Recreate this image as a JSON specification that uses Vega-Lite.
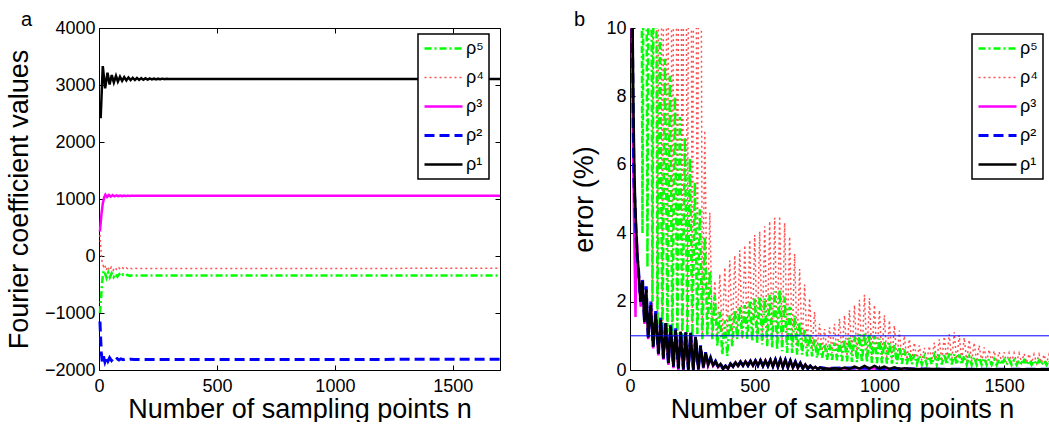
{
"$schema":"https://vega.github.io/schema/vega-lite/v6.json",
"padding":{"left":5,"top":10,"right":0,"bottom":0},
"autosize":{"type":"pad"},
"config":{
"font":"Liberation Sans",
"view":{"stroke":null},
"axis":{"domainColor":"black","domainWidth":1,"tickColor":"black","tickSize":-5,"tickWidth":1,"labelColor":"black","labelFont":"Liberation Sans","labelFontSize":18,"titleFont":"Liberation Sans","titleFontSize":27,"titleFontWeight":"normal","titleColor":"black","grid":false,"labelFlush":false,"format":"d"},
"axisX":{"labelPadding":12,"titlePadding":1},
"axisY":{"labelPadding":9,"titlePadding":11},
"legend":{"orient":"none","padding":5,"strokeColor":"black","fillColor":"white","symbolType":"stroke","symbolSize":1444,"labelFontSize":18,"labelFont":"Liberation Sans","labelColor":"black","clipHeight":19,"rowPadding":10,"labelOffset":2},
"title":{"fontSize":20,"fontWeight":"normal","anchor":"start","frame":"group","font":"Liberation Sans","color":"black","offset":-11,"align":"left"}
},
"datasets":{
"one":[{"v":1}],
"a":[
{"s":"ρ⁴","n":4,"v":370},{"s":"ρ⁴","n":7,"v":200},{"s":"ρ⁴","n":10,"v":20},{"s":"ρ⁴","n":14,"v":-120},{"s":"ρ⁴","n":19,"v":-180},{"s":"ρ⁴","n":24,"v":-150},{"s":"ρ⁴","n":30,"v":-250},{"s":"ρ⁴","n":37,"v":-185},{"s":"ρ⁴","n":44,"v":-255},{"s":"ρ⁴","n":52,"v":-195},{"s":"ρ⁴","n":60,"v":-250},{"s":"ρ⁴","n":68,"v":-200},{"s":"ρ⁴","n":76,"v":-245},{"s":"ρ⁴","n":84,"v":-205},{"s":"ρ⁴","n":92,"v":-240},{"s":"ρ⁴","n":100,"v":-208},{"s":"ρ⁴","n":108,"v":-235},{"s":"ρ⁴","n":116,"v":-210},{"s":"ρ⁴","n":124,"v":-230},{"s":"ρ⁴","n":132,"v":-212},{"s":"ρ⁴","n":140,"v":-225},{"s":"ρ⁴","n":150,"v":-214},{"s":"ρ⁴","n":170,"v":-220},{"s":"ρ⁴","n":1700,"v":-216},
{"s":"ρ⁵","n":4,"v":-1000},{"s":"ρ⁵","n":8,"v":-780},{"s":"ρ⁵","n":12,"v":-540},{"s":"ρ⁵","n":16,"v":-340},{"s":"ρ⁵","n":20,"v":-255},{"s":"ρ⁵","n":26,"v":-310},{"s":"ρ⁵","n":32,"v":-385},{"s":"ρ⁵","n":39,"v":-290},{"s":"ρ⁵","n":46,"v":-375},{"s":"ρ⁵","n":54,"v":-300},{"s":"ρ⁵","n":62,"v":-368},{"s":"ρ⁵","n":70,"v":-310},{"s":"ρ⁵","n":78,"v":-362},{"s":"ρ⁵","n":86,"v":-318},{"s":"ρ⁵","n":94,"v":-357},{"s":"ρ⁵","n":102,"v":-325},{"s":"ρ⁵","n":110,"v":-352},{"s":"ρ⁵","n":120,"v":-330},{"s":"ρ⁵","n":130,"v":-348},{"s":"ρ⁵","n":145,"v":-336},{"s":"ρ⁵","n":160,"v":-344},{"s":"ρ⁵","n":1700,"v":-340},
{"s":"ρ³","n":4,"v":430},{"s":"ρ³","n":10,"v":720},{"s":"ρ³","n":16,"v":920},{"s":"ρ³","n":22,"v":1030},{"s":"ρ³","n":27,"v":1075},{"s":"ρ³","n":34,"v":1035},{"s":"ρ³","n":42,"v":1072},{"s":"ρ³","n":50,"v":1042},{"s":"ρ³","n":58,"v":1068},{"s":"ρ³","n":66,"v":1046},{"s":"ρ³","n":74,"v":1064},{"s":"ρ³","n":82,"v":1049},{"s":"ρ³","n":90,"v":1062},{"s":"ρ³","n":98,"v":1051},{"s":"ρ³","n":106,"v":1060},{"s":"ρ³","n":114,"v":1053},{"s":"ρ³","n":122,"v":1059},{"s":"ρ³","n":130,"v":1054},{"s":"ρ³","n":140,"v":1058},{"s":"ρ³","n":160,"v":1056},{"s":"ρ³","n":1700,"v":1057},
{"s":"ρ²","n":4,"v":-1150},{"s":"ρ²","n":7,"v":-1450},{"s":"ρ²","n":10,"v":-1700},{"s":"ρ²","n":14,"v":-1860},{"s":"ρ²","n":19,"v":-1760},{"s":"ρ²","n":25,"v":-1855},{"s":"ρ²","n":31,"v":-1775},{"s":"ρ²","n":38,"v":-1845},{"s":"ρ²","n":45,"v":-1785},{"s":"ρ²","n":53,"v":-1835},{"s":"ρ²","n":61,"v":-1795},{"s":"ρ²","n":69,"v":-1828},{"s":"ρ²","n":77,"v":-1800},{"s":"ρ²","n":85,"v":-1824},{"s":"ρ²","n":93,"v":-1804},{"s":"ρ²","n":102,"v":-1820},{"s":"ρ²","n":112,"v":-1807},{"s":"ρ²","n":122,"v":-1818},{"s":"ρ²","n":135,"v":-1810},{"s":"ρ²","n":150,"v":-1815},{"s":"ρ²","n":1700,"v":-1813},
{"s":"ρ¹","n":7,"v":2416},{"s":"ρ¹","n":16,"v":3333},{"s":"ρ¹","n":26,"v":2940},{"s":"ρ¹","n":36,"v":3215},{"s":"ρ¹","n":45,"v":3010},{"s":"ρ¹","n":54,"v":3175},{"s":"ρ¹","n":63,"v":3045},{"s":"ρ¹","n":72,"v":3160},{"s":"ρ¹","n":80,"v":3060},{"s":"ρ¹","n":89,"v":3145},{"s":"ρ¹","n":98,"v":3072},{"s":"ρ¹","n":107,"v":3138},{"s":"ρ¹","n":116,"v":3080},{"s":"ρ¹","n":125,"v":3132},{"s":"ρ¹","n":134,"v":3085},{"s":"ρ¹","n":143,"v":3127},{"s":"ρ¹","n":152,"v":3088},{"s":"ρ¹","n":161,"v":3123},{"s":"ρ¹","n":170,"v":3091},{"s":"ρ¹","n":179,"v":3120},{"s":"ρ¹","n":188,"v":3093},{"s":"ρ¹","n":197,"v":3117},{"s":"ρ¹","n":206,"v":3095},{"s":"ρ¹","n":215,"v":3115},{"s":"ρ¹","n":224,"v":3097},{"s":"ρ¹","n":233,"v":3113},{"s":"ρ¹","n":242,"v":3099},{"s":"ρ¹","n":251,"v":3111},{"s":"ρ¹","n":260,"v":3101},{"s":"ρ¹","n":269,"v":3110},{"s":"ρ¹","n":278,"v":3102},{"s":"ρ¹","n":287,"v":3109},{"s":"ρ¹","n":296,"v":3104},{"s":"ρ¹","n":310,"v":3107},{"s":"ρ¹","n":330,"v":3105},{"s":"ρ¹","n":1700,"v":3106}
],
"b":[
{"s":"ρ⁴","n":0,"v":30},{"s":"ρ⁴","n":10,"v":15},{"s":"ρ⁴","n":20,"v":30},{"s":"ρ⁴","n":30,"v":15},{"s":"ρ⁴","n":40,"v":30},{"s":"ρ⁴","n":50,"v":15},{"s":"ρ⁴","n":60,"v":30},{"s":"ρ⁴","n":70,"v":15},{"s":"ρ⁴","n":80,"v":30},{"s":"ρ⁴","n":90,"v":1.1},{"s":"ρ⁴","n":100,"v":25},{"s":"ρ⁴","n":110,"v":1.0},{"s":"ρ⁴","n":120,"v":25},{"s":"ρ⁴","n":130,"v":1.1},{"s":"ρ⁴","n":140,"v":25},{"s":"ρ⁴","n":150,"v":0.9},{"s":"ρ⁴","n":160,"v":25},{"s":"ρ⁴","n":170,"v":1.0},{"s":"ρ⁴","n":180,"v":25},{"s":"ρ⁴","n":190,"v":1.1},{"s":"ρ⁴","n":200,"v":25},{"s":"ρ⁴","n":210,"v":0.95},{"s":"ρ⁴","n":220,"v":25},{"s":"ρ⁴","n":230,"v":1.05},{"s":"ρ⁴","n":240,"v":25},{"s":"ρ⁴","n":250,"v":0.9},{"s":"ρ⁴","n":260,"v":25},{"s":"ρ⁴","n":270,"v":1.0},{"s":"ρ⁴","n":280,"v":25},{"s":"ρ⁴","n":290,"v":0.95},{"s":"ρ⁴","n":300,"v":7.0},{"s":"ρ⁴","n":310,"v":1.0},{"s":"ρ⁴","n":320,"v":4.6},{"s":"ρ⁴","n":330,"v":1.1},{"s":"ρ⁴","n":340,"v":2.6},{"s":"ρ⁴","n":350,"v":1.0},{"s":"ρ⁴","n":360,"v":2.8},{"s":"ρ⁴","n":370,"v":0.95},{"s":"ρ⁴","n":380,"v":3.0},{"s":"ρ⁴","n":390,"v":1.0},{"s":"ρ⁴","n":400,"v":3.2},{"s":"ρ⁴","n":410,"v":0.9},{"s":"ρ⁴","n":420,"v":3.35},{"s":"ρ⁴","n":430,"v":1.0},{"s":"ρ⁴","n":440,"v":3.5},{"s":"ρ⁴","n":450,"v":0.9},{"s":"ρ⁴","n":460,"v":3.65},{"s":"ρ⁴","n":470,"v":0.95},{"s":"ρ⁴","n":480,"v":3.8},{"s":"ρ⁴","n":490,"v":0.85},{"s":"ρ⁴","n":500,"v":3.95},{"s":"ρ⁴","n":510,"v":0.9},{"s":"ρ⁴","n":520,"v":4.05},{"s":"ρ⁴","n":530,"v":0.85},{"s":"ρ⁴","n":540,"v":4.2},{"s":"ρ⁴","n":550,"v":0.8},{"s":"ρ⁴","n":560,"v":4.35},{"s":"ρ⁴","n":570,"v":0.85},{"s":"ρ⁴","n":580,"v":4.45},{"s":"ρ⁴","n":590,"v":0.8},{"s":"ρ⁴","n":600,"v":4.5},{"s":"ρ⁴","n":610,"v":0.8},{"s":"ρ⁴","n":620,"v":4.3},{"s":"ρ⁴","n":630,"v":0.75},{"s":"ρ⁴","n":640,"v":3.9},{"s":"ρ⁴","n":650,"v":0.75},{"s":"ρ⁴","n":660,"v":3.4},{"s":"ρ⁴","n":670,"v":0.7},{"s":"ρ⁴","n":680,"v":2.95},{"s":"ρ⁴","n":690,"v":0.7},{"s":"ρ⁴","n":700,"v":2.5},{"s":"ρ⁴","n":710,"v":0.65},{"s":"ρ⁴","n":720,"v":2.1},{"s":"ρ⁴","n":730,"v":0.6},{"s":"ρ⁴","n":740,"v":1.7},{"s":"ρ⁴","n":750,"v":0.6},{"s":"ρ⁴","n":760,"v":1.35},{"s":"ρ⁴","n":770,"v":0.55},{"s":"ρ⁴","n":780,"v":1.2},{"s":"ρ⁴","n":790,"v":0.5},{"s":"ρ⁴","n":800,"v":1.25},{"s":"ρ⁴","n":810,"v":0.5},{"s":"ρ⁴","n":820,"v":1.35},{"s":"ρ⁴","n":830,"v":0.45},{"s":"ρ⁴","n":840,"v":1.5},{"s":"ρ⁴","n":850,"v":0.45},{"s":"ρ⁴","n":860,"v":1.6},{"s":"ρ⁴","n":870,"v":0.4},{"s":"ρ⁴","n":880,"v":1.75},{"s":"ρ⁴","n":890,"v":0.4},{"s":"ρ⁴","n":900,"v":1.9},{"s":"ρ⁴","n":910,"v":0.4},{"s":"ρ⁴","n":920,"v":2.05},{"s":"ρ⁴","n":930,"v":0.35},{"s":"ρ⁴","n":940,"v":2.2},{"s":"ρ⁴","n":950,"v":0.35},{"s":"ρ⁴","n":960,"v":2.1},{"s":"ρ⁴","n":970,"v":0.35},{"s":"ρ⁴","n":980,"v":1.9},{"s":"ρ⁴","n":990,"v":0.35},{"s":"ρ⁴","n":1000,"v":1.75},{"s":"ρ⁴","n":1010,"v":0.35},{"s":"ρ⁴","n":1020,"v":1.6},{"s":"ρ⁴","n":1030,"v":0.3},{"s":"ρ⁴","n":1040,"v":1.45},{"s":"ρ⁴","n":1050,"v":0.3},{"s":"ρ⁴","n":1060,"v":1.3},{"s":"ρ⁴","n":1070,"v":0.3},{"s":"ρ⁴","n":1080,"v":1.15},{"s":"ρ⁴","n":1090,"v":0.3},{"s":"ρ⁴","n":1100,"v":1.0},{"s":"ρ⁴","n":1110,"v":0.3},{"s":"ρ⁴","n":1120,"v":0.9},{"s":"ρ⁴","n":1130,"v":0.28},{"s":"ρ⁴","n":1140,"v":0.8},{"s":"ρ⁴","n":1150,"v":0.28},{"s":"ρ⁴","n":1160,"v":0.72},{"s":"ρ⁴","n":1170,"v":0.27},{"s":"ρ⁴","n":1180,"v":0.65},{"s":"ρ⁴","n":1190,"v":0.27},{"s":"ρ⁴","n":1200,"v":0.7},{"s":"ρ⁴","n":1210,"v":0.27},{"s":"ρ⁴","n":1220,"v":0.8},{"s":"ρ⁴","n":1230,"v":0.27},{"s":"ρ⁴","n":1240,"v":0.9},{"s":"ρ⁴","n":1250,"v":0.26},{"s":"ρ⁴","n":1260,"v":0.98},{"s":"ρ⁴","n":1270,"v":0.26},{"s":"ρ⁴","n":1280,"v":1.05},{"s":"ρ⁴","n":1290,"v":0.26},{"s":"ρ⁴","n":1300,"v":1.1},{"s":"ρ⁴","n":1310,"v":0.25},{"s":"ρ⁴","n":1320,"v":1.02},{"s":"ρ⁴","n":1330,"v":0.25},{"s":"ρ⁴","n":1340,"v":0.95},{"s":"ρ⁴","n":1350,"v":0.25},{"s":"ρ⁴","n":1360,"v":0.88},{"s":"ρ⁴","n":1370,"v":0.25},{"s":"ρ⁴","n":1380,"v":0.8},{"s":"ρ⁴","n":1390,"v":0.24},{"s":"ρ⁴","n":1400,"v":0.72},{"s":"ρ⁴","n":1410,"v":0.24},{"s":"ρ⁴","n":1420,"v":0.66},{"s":"ρ⁴","n":1430,"v":0.24},{"s":"ρ⁴","n":1440,"v":0.6},{"s":"ρ⁴","n":1450,"v":0.23},{"s":"ρ⁴","n":1460,"v":0.56},{"s":"ρ⁴","n":1470,"v":0.23},{"s":"ρ⁴","n":1480,"v":0.53},{"s":"ρ⁴","n":1490,"v":0.23},{"s":"ρ⁴","n":1500,"v":0.52},{"s":"ρ⁴","n":1510,"v":0.22},{"s":"ρ⁴","n":1520,"v":0.5},{"s":"ρ⁴","n":1530,"v":0.22},{"s":"ρ⁴","n":1540,"v":0.5},{"s":"ρ⁴","n":1550,"v":0.22},{"s":"ρ⁴","n":1560,"v":0.49},{"s":"ρ⁴","n":1570,"v":0.21},{"s":"ρ⁴","n":1580,"v":0.48},{"s":"ρ⁴","n":1590,"v":0.21},{"s":"ρ⁴","n":1600,"v":0.47},{"s":"ρ⁴","n":1610,"v":0.21},{"s":"ρ⁴","n":1620,"v":0.46},{"s":"ρ⁴","n":1630,"v":0.2},{"s":"ρ⁴","n":1640,"v":0.46},{"s":"ρ⁴","n":1650,"v":0.2},{"s":"ρ⁴","n":1660,"v":0.45},{"s":"ρ⁴","n":1670,"v":0.2},{"s":"ρ⁴","n":1680,"v":0.45},{"s":"ρ⁴","n":1690,"v":0.2},{"s":"ρ⁴","n":1700,"v":0.44},
{"s":"ρ⁵","n":0,"v":30},{"s":"ρ⁵","n":10,"v":20},{"s":"ρ⁵","n":20,"v":30},{"s":"ρ⁵","n":30,"v":20},{"s":"ρ⁵","n":40,"v":30},{"s":"ρ⁵","n":50,"v":4.0},{"s":"ρ⁵","n":60,"v":25},{"s":"ρ⁵","n":70,"v":3.0},{"s":"ρ⁵","n":80,"v":25},{"s":"ρ⁵","n":90,"v":2.0},{"s":"ρ⁵","n":100,"v":25},{"s":"ρ⁵","n":110,"v":1.3},{"s":"ρ⁵","n":120,"v":9.7},{"s":"ρ⁵","n":130,"v":1.0},{"s":"ρ⁵","n":140,"v":9.1},{"s":"ρ⁵","n":150,"v":1.1},{"s":"ρ⁵","n":160,"v":8.6},{"s":"ρ⁵","n":170,"v":0.95},{"s":"ρ⁵","n":180,"v":8.0},{"s":"ρ⁵","n":190,"v":1.05},{"s":"ρ⁵","n":200,"v":7.4},{"s":"ρ⁵","n":210,"v":0.9},{"s":"ρ⁵","n":220,"v":6.8},{"s":"ρ⁵","n":230,"v":1.0},{"s":"ρ⁵","n":240,"v":6.2},{"s":"ρ⁵","n":250,"v":0.95},{"s":"ρ⁵","n":260,"v":5.5},{"s":"ρ⁵","n":270,"v":1.05},{"s":"ρ⁵","n":280,"v":4.7},{"s":"ρ⁵","n":290,"v":0.9},{"s":"ρ⁵","n":300,"v":3.9},{"s":"ρ⁵","n":310,"v":1.0},{"s":"ρ⁵","n":320,"v":2.9},{"s":"ρ⁵","n":330,"v":0.9},{"s":"ρ⁵","n":340,"v":2.2},{"s":"ρ⁵","n":350,"v":0.7},{"s":"ρ⁵","n":360,"v":1.7},{"s":"ρ⁵","n":370,"v":0.45},{"s":"ρ⁵","n":380,"v":1.45},{"s":"ρ⁵","n":390,"v":0.4},{"s":"ρ⁵","n":400,"v":1.6},{"s":"ρ⁵","n":410,"v":0.7},{"s":"ρ⁵","n":420,"v":1.75},{"s":"ρ⁵","n":430,"v":0.9},{"s":"ρ⁵","n":440,"v":1.85},{"s":"ρ⁵","n":450,"v":0.95},{"s":"ρ⁵","n":460,"v":1.9},{"s":"ρ⁵","n":470,"v":0.9},{"s":"ρ⁵","n":480,"v":2.0},{"s":"ρ⁵","n":490,"v":0.85},{"s":"ρ⁵","n":500,"v":2.1},{"s":"ρ⁵","n":510,"v":0.8},{"s":"ρ⁵","n":520,"v":2.15},{"s":"ρ⁵","n":530,"v":0.75},{"s":"ρ⁵","n":540,"v":2.1},{"s":"ρ⁵","n":550,"v":0.7},{"s":"ρ⁵","n":560,"v":2.2},{"s":"ρ⁵","n":570,"v":0.65},{"s":"ρ⁵","n":580,"v":2.3},{"s":"ρ⁵","n":590,"v":0.6},{"s":"ρ⁵","n":600,"v":2.35},{"s":"ρ⁵","n":610,"v":0.55},{"s":"ρ⁵","n":620,"v":2.15},{"s":"ρ⁵","n":630,"v":0.5},{"s":"ρ⁵","n":640,"v":1.85},{"s":"ρ⁵","n":650,"v":0.5},{"s":"ρ⁵","n":660,"v":1.6},{"s":"ρ⁵","n":670,"v":0.45},{"s":"ρ⁵","n":680,"v":1.4},{"s":"ρ⁵","n":690,"v":0.45},{"s":"ρ⁵","n":700,"v":1.2},{"s":"ρ⁵","n":710,"v":0.4},{"s":"ρ⁵","n":720,"v":1.05},{"s":"ρ⁵","n":730,"v":0.4},{"s":"ρ⁵","n":740,"v":0.92},{"s":"ρ⁵","n":750,"v":0.35},{"s":"ρ⁵","n":760,"v":0.82},{"s":"ρ⁵","n":770,"v":0.35},{"s":"ρ⁵","n":780,"v":0.76},{"s":"ρ⁵","n":790,"v":0.3},{"s":"ρ⁵","n":800,"v":0.75},{"s":"ρ⁵","n":810,"v":0.3},{"s":"ρ⁵","n":820,"v":0.8},{"s":"ρ⁵","n":830,"v":0.28},{"s":"ρ⁵","n":840,"v":0.85},{"s":"ρ⁵","n":850,"v":0.26},{"s":"ρ⁵","n":860,"v":0.9},{"s":"ρ⁵","n":870,"v":0.25},{"s":"ρ⁵","n":880,"v":0.95},{"s":"ρ⁵","n":890,"v":0.24},{"s":"ρ⁵","n":900,"v":1.0},{"s":"ρ⁵","n":910,"v":0.23},{"s":"ρ⁵","n":920,"v":1.05},{"s":"ρ⁵","n":930,"v":0.22},{"s":"ρ⁵","n":940,"v":1.1},{"s":"ρ⁵","n":950,"v":0.22},{"s":"ρ⁵","n":960,"v":1.05},{"s":"ρ⁵","n":970,"v":0.21},{"s":"ρ⁵","n":980,"v":1.0},{"s":"ρ⁵","n":990,"v":0.2},{"s":"ρ⁵","n":1000,"v":0.92},{"s":"ρ⁵","n":1010,"v":0.2},{"s":"ρ⁵","n":1020,"v":0.86},{"s":"ρ⁵","n":1030,"v":0.19},{"s":"ρ⁵","n":1040,"v":0.8},{"s":"ρ⁵","n":1050,"v":0.19},{"s":"ρ⁵","n":1060,"v":0.74},{"s":"ρ⁵","n":1070,"v":0.18},{"s":"ρ⁵","n":1080,"v":0.68},{"s":"ρ⁵","n":1090,"v":0.18},{"s":"ρ⁵","n":1100,"v":0.6},{"s":"ρ⁵","n":1110,"v":0.17},{"s":"ρ⁵","n":1120,"v":0.52},{"s":"ρ⁵","n":1130,"v":0.17},{"s":"ρ⁵","n":1140,"v":0.46},{"s":"ρ⁵","n":1150,"v":0.17},{"s":"ρ⁵","n":1160,"v":0.42},{"s":"ρ⁵","n":1170,"v":0.16},{"s":"ρ⁵","n":1180,"v":0.39},{"s":"ρ⁵","n":1190,"v":0.16},{"s":"ρ⁵","n":1200,"v":0.4},{"s":"ρ⁵","n":1210,"v":0.16},{"s":"ρ⁵","n":1220,"v":0.43},{"s":"ρ⁵","n":1230,"v":0.16},{"s":"ρ⁵","n":1240,"v":0.45},{"s":"ρ⁵","n":1250,"v":0.16},{"s":"ρ⁵","n":1260,"v":0.47},{"s":"ρ⁵","n":1270,"v":0.16},{"s":"ρ⁵","n":1280,"v":0.48},{"s":"ρ⁵","n":1290,"v":0.16},{"s":"ρ⁵","n":1300,"v":0.47},{"s":"ρ⁵","n":1310,"v":0.16},{"s":"ρ⁵","n":1320,"v":0.45},{"s":"ρ⁵","n":1330,"v":0.16},{"s":"ρ⁵","n":1340,"v":0.42},{"s":"ρ⁵","n":1350,"v":0.16},{"s":"ρ⁵","n":1360,"v":0.4},{"s":"ρ⁵","n":1370,"v":0.15},{"s":"ρ⁵","n":1380,"v":0.38},{"s":"ρ⁵","n":1390,"v":0.15},{"s":"ρ⁵","n":1400,"v":0.36},{"s":"ρ⁵","n":1410,"v":0.15},{"s":"ρ⁵","n":1420,"v":0.35},{"s":"ρ⁵","n":1430,"v":0.15},{"s":"ρ⁵","n":1440,"v":0.33},{"s":"ρ⁵","n":1450,"v":0.15},{"s":"ρ⁵","n":1460,"v":0.32},{"s":"ρ⁵","n":1470,"v":0.15},{"s":"ρ⁵","n":1480,"v":0.31},{"s":"ρ⁵","n":1490,"v":0.15},{"s":"ρ⁵","n":1500,"v":0.3},{"s":"ρ⁵","n":1510,"v":0.15},{"s":"ρ⁵","n":1520,"v":0.3},{"s":"ρ⁵","n":1530,"v":0.15},{"s":"ρ⁵","n":1540,"v":0.29},{"s":"ρ⁵","n":1550,"v":0.15},{"s":"ρ⁵","n":1560,"v":0.29},{"s":"ρ⁵","n":1570,"v":0.15},{"s":"ρ⁵","n":1580,"v":0.29},{"s":"ρ⁵","n":1590,"v":0.15},{"s":"ρ⁵","n":1600,"v":0.28},{"s":"ρ⁵","n":1610,"v":0.15},{"s":"ρ⁵","n":1620,"v":0.28},{"s":"ρ⁵","n":1630,"v":0.15},{"s":"ρ⁵","n":1640,"v":0.28},{"s":"ρ⁵","n":1650,"v":0.15},{"s":"ρ⁵","n":1660,"v":0.28},{"s":"ρ⁵","n":1670,"v":0.15},{"s":"ρ⁵","n":1680,"v":0.28},{"s":"ρ⁵","n":1690,"v":0.15},{"s":"ρ⁵","n":1700,"v":0.28},
{"s":"ρ³","n":2,"v":60},{"s":"ρ³","n":6,"v":11},{"s":"ρ³","n":10,"v":8},{"s":"ρ³","n":14,"v":5.5},{"s":"ρ³","n":18,"v":3.5},{"s":"ρ³","n":22,"v":1.55},{"s":"ρ³","n":27,"v":3.9},{"s":"ρ³","n":32,"v":3.1},{"s":"ρ³","n":37,"v":2.6},{"s":"ρ³","n":43,"v":1.85},{"s":"ρ³","n":50,"v":2.55},{"s":"ρ³","n":58,"v":1.35},{"s":"ρ³","n":65,"v":2.3},{"s":"ρ³","n":73,"v":0.9},{"s":"ρ³","n":83,"v":1.85},{"s":"ρ³","n":93,"v":0.63},{"s":"ρ³","n":103,"v":1.6},{"s":"ρ³","n":114,"v":0.43},{"s":"ρ³","n":123,"v":1.42},{"s":"ρ³","n":134,"v":0.3},{"s":"ρ³","n":143,"v":1.33},{"s":"ρ³","n":154,"v":0.15},{"s":"ρ³","n":163,"v":1.23},{"s":"ρ³","n":174,"v":0.05},{"s":"ρ³","n":183,"v":1.13},{"s":"ρ³","n":194,"v":0},{"s":"ρ³","n":203,"v":1.08},{"s":"ρ³","n":214,"v":0},{"s":"ρ³","n":223,"v":1.06},{"s":"ρ³","n":234,"v":0},{"s":"ρ³","n":243,"v":1.03},{"s":"ρ³","n":254,"v":0},{"s":"ρ³","n":263,"v":0.93},{"s":"ρ³","n":274,"v":0},{"s":"ρ³","n":283,"v":0.66},{"s":"ρ³","n":294,"v":0.05},{"s":"ρ³","n":303,"v":0.47},{"s":"ρ³","n":313,"v":0.12},{"s":"ρ³","n":323,"v":0.32},{"s":"ρ³","n":333,"v":0.12},{"s":"ρ³","n":343,"v":0.22},{"s":"ρ³","n":353,"v":0.08},{"s":"ρ³","n":363,"v":0.16},{"s":"ρ³","n":373,"v":0.03},{"s":"ρ³","n":383,"v":0.1},{"s":"ρ³","n":393,"v":0.03},{"s":"ρ³","n":403,"v":0.18},{"s":"ρ³","n":413,"v":0.1},{"s":"ρ³","n":423,"v":0.22},{"s":"ρ³","n":433,"v":0.12},{"s":"ρ³","n":443,"v":0.24},{"s":"ρ³","n":453,"v":0.13},{"s":"ρ³","n":463,"v":0.25},{"s":"ρ³","n":473,"v":0.13},{"s":"ρ³","n":483,"v":0.26},{"s":"ρ³","n":493,"v":0.13},{"s":"ρ³","n":503,"v":0.27},{"s":"ρ³","n":513,"v":0.13},{"s":"ρ³","n":523,"v":0.28},{"s":"ρ³","n":533,"v":0.12},{"s":"ρ³","n":543,"v":0.28},{"s":"ρ³","n":553,"v":0.12},{"s":"ρ³","n":563,"v":0.29},{"s":"ρ³","n":573,"v":0.11},{"s":"ρ³","n":583,"v":0.3},{"s":"ρ³","n":593,"v":0.1},{"s":"ρ³","n":603,"v":0.3},{"s":"ρ³","n":613,"v":0.09},{"s":"ρ³","n":623,"v":0.29},{"s":"ρ³","n":633,"v":0.08},{"s":"ρ³","n":643,"v":0.27},{"s":"ρ³","n":653,"v":0.07},{"s":"ρ³","n":663,"v":0.24},{"s":"ρ³","n":673,"v":0.06},{"s":"ρ³","n":683,"v":0.2},{"s":"ρ³","n":693,"v":0.05},{"s":"ρ³","n":703,"v":0.16},{"s":"ρ³","n":713,"v":0.04},{"s":"ρ³","n":723,"v":0.12},{"s":"ρ³","n":733,"v":0.04},{"s":"ρ³","n":743,"v":0.09},{"s":"ρ³","n":753,"v":0.03},{"s":"ρ³","n":763,"v":0.07},{"s":"ρ³","n":783,"v":0.04},{"s":"ρ³","n":900,"v":0.05},{"s":"ρ³","n":1100,"v":0.03},{"s":"ρ³","n":1300,"v":0.02},{"s":"ρ³","n":1700,"v":0.01},
{"s":"ρ²","n":2,"v":60},{"s":"ρ²","n":7,"v":13},{"s":"ρ²","n":10,"v":9.5},{"s":"ρ²","n":13,"v":7.2},{"s":"ρ²","n":16,"v":5.5},{"s":"ρ²","n":19,"v":5.0},{"s":"ρ²","n":23,"v":4.2},{"s":"ρ²","n":28,"v":3.4},{"s":"ρ²","n":34,"v":2.95},{"s":"ρ²","n":42,"v":2.0},{"s":"ρ²","n":50,"v":2.7},{"s":"ρ²","n":58,"v":1.4},{"s":"ρ²","n":65,"v":2.45},{"s":"ρ²","n":73,"v":0.95},{"s":"ρ²","n":83,"v":2.0},{"s":"ρ²","n":93,"v":0.68},{"s":"ρ²","n":103,"v":1.72},{"s":"ρ²","n":114,"v":0.48},{"s":"ρ²","n":123,"v":1.53},{"s":"ρ²","n":134,"v":0.34},{"s":"ρ²","n":143,"v":1.43},{"s":"ρ²","n":154,"v":0.2},{"s":"ρ²","n":163,"v":1.32},{"s":"ρ²","n":174,"v":0.1},{"s":"ρ²","n":183,"v":1.22},{"s":"ρ²","n":194,"v":0.05},{"s":"ρ²","n":203,"v":1.16},{"s":"ρ²","n":214,"v":0.02},{"s":"ρ²","n":223,"v":1.13},{"s":"ρ²","n":234,"v":0.01},{"s":"ρ²","n":243,"v":1.1},{"s":"ρ²","n":254,"v":0.01},{"s":"ρ²","n":263,"v":1.0},{"s":"ρ²","n":274,"v":0.02},{"s":"ρ²","n":283,"v":0.72},{"s":"ρ²","n":294,"v":0.08},{"s":"ρ²","n":303,"v":0.52},{"s":"ρ²","n":313,"v":0.15},{"s":"ρ²","n":323,"v":0.36},{"s":"ρ²","n":333,"v":0.14},{"s":"ρ²","n":343,"v":0.26},{"s":"ρ²","n":353,"v":0.1},{"s":"ρ²","n":363,"v":0.18},{"s":"ρ²","n":373,"v":0.04},{"s":"ρ²","n":383,"v":0.12},{"s":"ρ²","n":393,"v":0.04},{"s":"ρ²","n":403,"v":0.18},{"s":"ρ²","n":413,"v":0.1},{"s":"ρ²","n":423,"v":0.22},{"s":"ρ²","n":433,"v":0.12},{"s":"ρ²","n":443,"v":0.24},{"s":"ρ²","n":453,"v":0.13},{"s":"ρ²","n":463,"v":0.25},{"s":"ρ²","n":473,"v":0.13},{"s":"ρ²","n":483,"v":0.26},{"s":"ρ²","n":493,"v":0.13},{"s":"ρ²","n":503,"v":0.27},{"s":"ρ²","n":513,"v":0.13},{"s":"ρ²","n":523,"v":0.28},{"s":"ρ²","n":533,"v":0.12},{"s":"ρ²","n":543,"v":0.28},{"s":"ρ²","n":553,"v":0.12},{"s":"ρ²","n":563,"v":0.29},{"s":"ρ²","n":573,"v":0.11},{"s":"ρ²","n":583,"v":0.3},{"s":"ρ²","n":593,"v":0.1},{"s":"ρ²","n":603,"v":0.3},{"s":"ρ²","n":613,"v":0.09},{"s":"ρ²","n":623,"v":0.29},{"s":"ρ²","n":633,"v":0.08},{"s":"ρ²","n":643,"v":0.27},{"s":"ρ²","n":653,"v":0.07},{"s":"ρ²","n":663,"v":0.24},{"s":"ρ²","n":673,"v":0.06},{"s":"ρ²","n":683,"v":0.2},{"s":"ρ²","n":693,"v":0.05},{"s":"ρ²","n":703,"v":0.16},{"s":"ρ²","n":713,"v":0.04},{"s":"ρ²","n":723,"v":0.12},{"s":"ρ²","n":733,"v":0.04},{"s":"ρ²","n":743,"v":0.09},{"s":"ρ²","n":753,"v":0.03},{"s":"ρ²","n":763,"v":0.07},{"s":"ρ²","n":783,"v":0.05},{"s":"ρ²","n":900,"v":0.06},{"s":"ρ²","n":1000,"v":0.05},{"s":"ρ²","n":1100,"v":0.03},{"s":"ρ²","n":1300,"v":0.02},{"s":"ρ²","n":1700,"v":0.02},
{"s":"ρ¹","n":2,"v":60},{"s":"ρ¹","n":8,"v":13},{"s":"ρ¹","n":11,"v":9.6},{"s":"ρ¹","n":14,"v":7.6},{"s":"ρ¹","n":17,"v":6.1},{"s":"ρ¹","n":20,"v":5.1},{"s":"ρ¹","n":24,"v":4.3},{"s":"ρ¹","n":29,"v":3.4},{"s":"ρ¹","n":34,"v":2.9},{"s":"ρ¹","n":42,"v":2.0},{"s":"ρ¹","n":50,"v":2.6},{"s":"ρ¹","n":58,"v":1.4},{"s":"ρ¹","n":65,"v":2.35},{"s":"ρ¹","n":73,"v":0.95},{"s":"ρ¹","n":83,"v":1.9},{"s":"ρ¹","n":93,"v":0.68},{"s":"ρ¹","n":103,"v":1.64},{"s":"ρ¹","n":114,"v":0.48},{"s":"ρ¹","n":123,"v":1.46},{"s":"ρ¹","n":134,"v":0.34},{"s":"ρ¹","n":143,"v":1.37},{"s":"ρ¹","n":154,"v":0.2},{"s":"ρ¹","n":163,"v":1.27},{"s":"ρ¹","n":174,"v":0.1},{"s":"ρ¹","n":183,"v":1.17},{"s":"ρ¹","n":194,"v":0.05},{"s":"ρ¹","n":203,"v":1.12},{"s":"ρ¹","n":214,"v":0.02},{"s":"ρ¹","n":223,"v":1.1},{"s":"ρ¹","n":234,"v":0.01},{"s":"ρ¹","n":243,"v":1.07},{"s":"ρ¹","n":254,"v":0.01},{"s":"ρ¹","n":263,"v":0.97},{"s":"ρ¹","n":274,"v":0.02},{"s":"ρ¹","n":283,"v":0.7},{"s":"ρ¹","n":294,"v":0.08},{"s":"ρ¹","n":303,"v":0.5},{"s":"ρ¹","n":313,"v":0.15},{"s":"ρ¹","n":323,"v":0.35},{"s":"ρ¹","n":333,"v":0.14},{"s":"ρ¹","n":343,"v":0.25},{"s":"ρ¹","n":353,"v":0.1},{"s":"ρ¹","n":363,"v":0.18},{"s":"ρ¹","n":373,"v":0.04},{"s":"ρ¹","n":383,"v":0.12},{"s":"ρ¹","n":393,"v":0.04},{"s":"ρ¹","n":403,"v":0.18},{"s":"ρ¹","n":413,"v":0.1},{"s":"ρ¹","n":423,"v":0.22},{"s":"ρ¹","n":433,"v":0.12},{"s":"ρ¹","n":443,"v":0.24},{"s":"ρ¹","n":453,"v":0.13},{"s":"ρ¹","n":463,"v":0.25},{"s":"ρ¹","n":473,"v":0.13},{"s":"ρ¹","n":483,"v":0.26},{"s":"ρ¹","n":493,"v":0.13},{"s":"ρ¹","n":503,"v":0.27},{"s":"ρ¹","n":513,"v":0.13},{"s":"ρ¹","n":523,"v":0.28},{"s":"ρ¹","n":533,"v":0.12},{"s":"ρ¹","n":543,"v":0.28},{"s":"ρ¹","n":553,"v":0.12},{"s":"ρ¹","n":563,"v":0.29},{"s":"ρ¹","n":573,"v":0.11},{"s":"ρ¹","n":583,"v":0.3},{"s":"ρ¹","n":593,"v":0.1},{"s":"ρ¹","n":603,"v":0.3},{"s":"ρ¹","n":613,"v":0.09},{"s":"ρ¹","n":623,"v":0.29},{"s":"ρ¹","n":633,"v":0.08},{"s":"ρ¹","n":643,"v":0.27},{"s":"ρ¹","n":653,"v":0.07},{"s":"ρ¹","n":663,"v":0.24},{"s":"ρ¹","n":673,"v":0.06},{"s":"ρ¹","n":683,"v":0.2},{"s":"ρ¹","n":693,"v":0.05},{"s":"ρ¹","n":703,"v":0.16},{"s":"ρ¹","n":713,"v":0.04},{"s":"ρ¹","n":723,"v":0.12},{"s":"ρ¹","n":733,"v":0.04},{"s":"ρ¹","n":743,"v":0.09},{"s":"ρ¹","n":753,"v":0.03},{"s":"ρ¹","n":763,"v":0.07},{"s":"ρ¹","n":773,"v":0.03},{"s":"ρ¹","n":783,"v":0.05},{"s":"ρ¹","n":800,"v":0.03},{"s":"ρ¹","n":820,"v":0.05},{"s":"ρ¹","n":840,"v":0.03},{"s":"ρ¹","n":860,"v":0.07},{"s":"ρ¹","n":880,"v":0.03},{"s":"ρ¹","n":900,"v":0.1},{"s":"ρ¹","n":920,"v":0.04},{"s":"ρ¹","n":940,"v":0.12},{"s":"ρ¹","n":960,"v":0.04},{"s":"ρ¹","n":980,"v":0.12},{"s":"ρ¹","n":1000,"v":0.04},{"s":"ρ¹","n":1020,"v":0.1},{"s":"ρ¹","n":1040,"v":0.03},{"s":"ρ¹","n":1060,"v":0.08},{"s":"ρ¹","n":1080,"v":0.03},{"s":"ρ¹","n":1100,"v":0.05},{"s":"ρ¹","n":1150,"v":0.02},{"s":"ρ¹","n":1200,"v":0.03},{"s":"ρ¹","n":1300,"v":0.02},{"s":"ρ¹","n":1400,"v":0.02},{"s":"ρ¹","n":1500,"v":0.02},{"s":"ρ¹","n":1600,"v":0.02},{"s":"ρ¹","n":1700,"v":0.02}
]
},
"resolve":{"scale":{"color":"independent","strokeDash":"independent","strokeWidth":"independent"}},
"spacing":64,
"hconcat":[
{
"width":401,"height":342,
"title":{"text":"a","dx":-78},
"layer":[
{
"data":{"name":"a"},
"mark":{"type":"line","strokeCap":"butt"},
"encoding":{
"x":{"field":"n","type":"quantitative","scale":{"domain":[0,1700],"nice":false,"zero":false},"axis":{"values":[0,500,1000,1500],"title":"Number of sampling points n"}},
"y":{"field":"v","type":"quantitative","scale":{"domain":[-2000,4000],"nice":false,"zero":false},"axis":{"values":[-2000,-1000,0,1000,2000,3000,4000],"title":"Fourier coefficient values"}},
"color":{"field":"s","type":"nominal","scale":{"domain":["ρ⁵","ρ⁴","ρ³","ρ²","ρ¹"],"range":["#00ff00","#ff5050","#ff00ff","#0000ff","#000000"]},"legend":{"title":null,"legendX":319,"legendY":6,"encode":{"legend":{"update":{"strokeWidth":{"value":1.5}}}}}},
"strokeDash":{"field":"s","type":"nominal","scale":{"domain":["ρ⁵","ρ⁴","ρ³","ρ²","ρ¹"],"range":[[7,3,2,3],[2,3],[1,0],[10,5],[1,0]]},"legend":{"title":null,"legendX":319,"legendY":6}},
"strokeWidth":{"field":"s","type":"nominal","scale":{"type":"ordinal","domain":["ρ⁵","ρ⁴","ρ³","ρ²","ρ¹"],"range":[2.5,1.5,2.5,3,2.5]},"legend":{"title":null,"legendX":319,"legendY":6}}
}
},
{
"data":{"name":"a"},
"mark":{"type":"point","opacity":0},
"encoding":{
"x":{"field":"n","type":"quantitative","scale":{"domain":[0,1700],"nice":false,"zero":false},"axis":{"orient":"top","values":[0,500,1000,1500],"labels":false,"title":null}},
"y":{"field":"v","type":"quantitative","scale":{"domain":[-2000,4000],"nice":false,"zero":false},"axis":{"orient":"right","values":[-2000,-1000,0,1000,2000,3000,4000],"labels":false,"title":null}}
}
}
],
"resolve":{"axis":{"x":"independent","y":"independent"}}
},
{
"width":424,"height":342,
"title":{"text":"b","dx":-56},
"layer":[
{
"data":{"name":"b"},
"mark":{"type":"line","clip":true,"strokeCap":"butt"},
"encoding":{
"x":{"field":"n","type":"quantitative","scale":{"domain":[0,1700],"nice":false,"zero":false},"axis":{"values":[0,500,1000,1500],"title":"Number of sampling points n"}},
"y":{"field":"v","type":"quantitative","scale":{"domain":[0,10],"nice":false,"zero":false},"axis":{"values":[0,2,4,6,8,10],"title":"error (%)","titlePadding":7}},
"color":{"field":"s","type":"nominal","scale":{"domain":["ρ⁵","ρ⁴","ρ³","ρ²","ρ¹"],"range":["#00ff00","#ff5050","#ff00ff","#0000ff","#000000"]},"legend":{"title":null,"legendX":342,"legendY":6,"encode":{"legend":{"update":{"strokeWidth":{"value":1.5}}}}}},
"strokeDash":{"field":"s","type":"nominal","scale":{"domain":["ρ⁵","ρ⁴","ρ³","ρ²","ρ¹"],"range":[[7,3,2,3],[2,3],[1,0],[10,5],[1,0]]},"legend":{"title":null,"legendX":342,"legendY":6}},
"strokeWidth":{"field":"s","type":"nominal","scale":{"type":"ordinal","domain":["ρ⁵","ρ⁴","ρ³","ρ²","ρ¹"],"range":[2.5,1.5,2.5,3,2.5]},"legend":{"title":null,"legendX":342,"legendY":6}}
}
},
{
"data":{"name":"one"},
"mark":{"type":"rule","color":"#0000ff","strokeWidth":1},
"encoding":{"y":{"field":"v","type":"quantitative"}}
}
]
}
]
}
